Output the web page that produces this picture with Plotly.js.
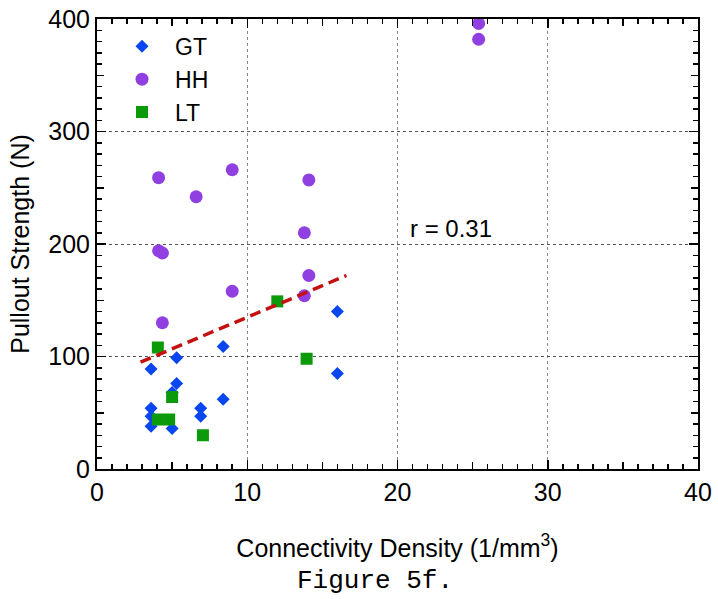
<!DOCTYPE html>
<html>
<head>
<meta charset="utf-8">
<script src="https://cdn.plot.ly/plotly-3.0.1.min.js"></script>
<style>html,body{margin:0;padding:0;background:#fff;}#chart{width:718px;height:599px;}</style>
</head>
<body>
<div id="chart"></div>
<script>
// Data
const gtX = [3.6, 3.6, 3.6, 3.6, 5.3, 5.3, 5.0, 5.0, 6.9, 6.9, 8.4, 8.4, 16.0, 16.0];
const gtY = [89, 54, 47, 38, 99, 76, 68, 36, 54, 47, 109, 62, 140, 85];
const hhX = [4.1, 4.1, 4.35, 4.35, 6.6, 9.0, 9.0, 13.8, 13.8, 14.1, 14.1, 25.4, 25.4];
const hhY = [259, 194, 192, 130, 242, 266, 158, 210, 154, 257, 172, 396, 382];
const ltX = [4.05, 4.05, 4.8, 5.0, 7.05, 12.0, 13.95];
const ltY = [108, 44, 44, 64, 30, 149, 98];
const trendX = [2.9, 16.6];
const trendY = [95, 172];
const xTicks = [0, 10, 20, 30, 40];
const yTicks = [0, 100, 200, 300, 400];
const xMid = [5, 15, 25, 35];
const yMid = [50, 150, 250, 350];

const FONT = 'Arial, "Liberation Sans", sans-serif';

const traces = [
  {x: gtX, y: gtY, name: 'GT', mode: 'markers', type: 'scatter',
   marker: {symbol: 'diamond', size: 10, color: '#0a46f0'}},
  {x: hhX, y: hhY, name: 'HH', mode: 'markers', type: 'scatter',
   marker: {symbol: 'circle', size: 13, color: '#9040e0'}},
  {x: ltX, y: ltY, name: 'LT', mode: 'markers', type: 'scatter',
   marker: {symbol: 'square', size: 12, color: '#0a9a0a'}},
  {x: trendX, y: trendY, mode: 'lines', type: 'scatter', showlegend: false,
   line: {color: '#c41010', width: 3.5, dash: '11px,6px'}},
  {x: [0], y: [0], xaxis: 'x2', yaxis: 'y2', mode: 'markers', showlegend: false,
   marker: {opacity: 0}, hoverinfo: 'skip'}
];

const layout = {
  width: 718, height: 599,
  margin: {l: 97, r: 20, t: 19, b: 130},
  paper_bgcolor: '#fff', plot_bgcolor: '#fff',
  font: {family: FONT, size: 25, color: '#000'},
  showlegend: true,
  legend: {x: 0.02, y: 0.987, xanchor: 'left', yanchor: 'top',
           bgcolor: 'rgba(0,0,0,0)', itemwidth: 56, font: {size: 23}},
  xaxis: {
    range: [0, 40], tickvals: xTicks, ticks: 'inside', ticklen: 9, tickwidth: 1.5,
    tickcolor: '#000', showline: true, linecolor: '#000', linewidth: 2, mirror: 'allticks',
    showgrid: true, gridcolor: '#888', griddash: 'dot', gridwidth: 1, zeroline: false,
    minor: {dtick: 1, ticks: 'inside', ticklen: 5, tickwidth: 1.5, tickcolor: '#000', showgrid: false},
    tickfont: {size: 25},
    title: {text: 'Connectivity Density (1/mm<sup>3</sup>)', font: {size: 25}, standoff: 34}
  },
  yaxis: {
    range: [0, 400], tickvals: yTicks, ticks: 'inside', ticklen: 9, tickwidth: 1.5,
    tickcolor: '#000', showline: true, linecolor: '#000', linewidth: 2, mirror: 'allticks',
    showgrid: true, gridcolor: '#555', griddash: 'dot', gridwidth: 1, zeroline: false,
    minor: {dtick: 10, ticks: 'inside', ticklen: 5, tickwidth: 1.5, tickcolor: '#000', showgrid: false},
    tickfont: {size: 25},
    title: {text: 'Pullout Strength (N)', font: {size: 25}, standoff: 12}
  },
  xaxis2: {
    overlaying: 'x', anchor: 'y', range: [0, 40], tickvals: xMid, ticks: 'inside', ticklen: 7,
    tickwidth: 1.5, tickcolor: '#000', showticklabels: false, showgrid: false, zeroline: false,
    showline: false, mirror: 'allticks'
  },
  yaxis2: {
    overlaying: 'y', anchor: 'x', range: [0, 400], tickvals: yMid, ticks: 'inside', ticklen: 7,
    tickwidth: 1.5, tickcolor: '#000', showticklabels: false, showgrid: false, zeroline: false,
    showline: false, mirror: 'allticks'
  },
  annotations: [
    {x: 20.7, y: 214, xref: 'x', yref: 'y', text: 'r = 0.31', showarrow: false,
     xanchor: 'left', yanchor: 'middle', font: {size: 24}},
    {x: 0.4626, y: -0.248, xref: 'paper', yref: 'paper', text: 'Figure 5f.', showarrow: false,
     xanchor: 'center', yanchor: 'middle',
     font: {family: '"Courier New", "Liberation Mono", monospace', size: 26}}
  ]
};

Plotly.newPlot('chart', traces, layout, {staticPlot: true, displayModeBar: false});
</script>
</body>
</html>
